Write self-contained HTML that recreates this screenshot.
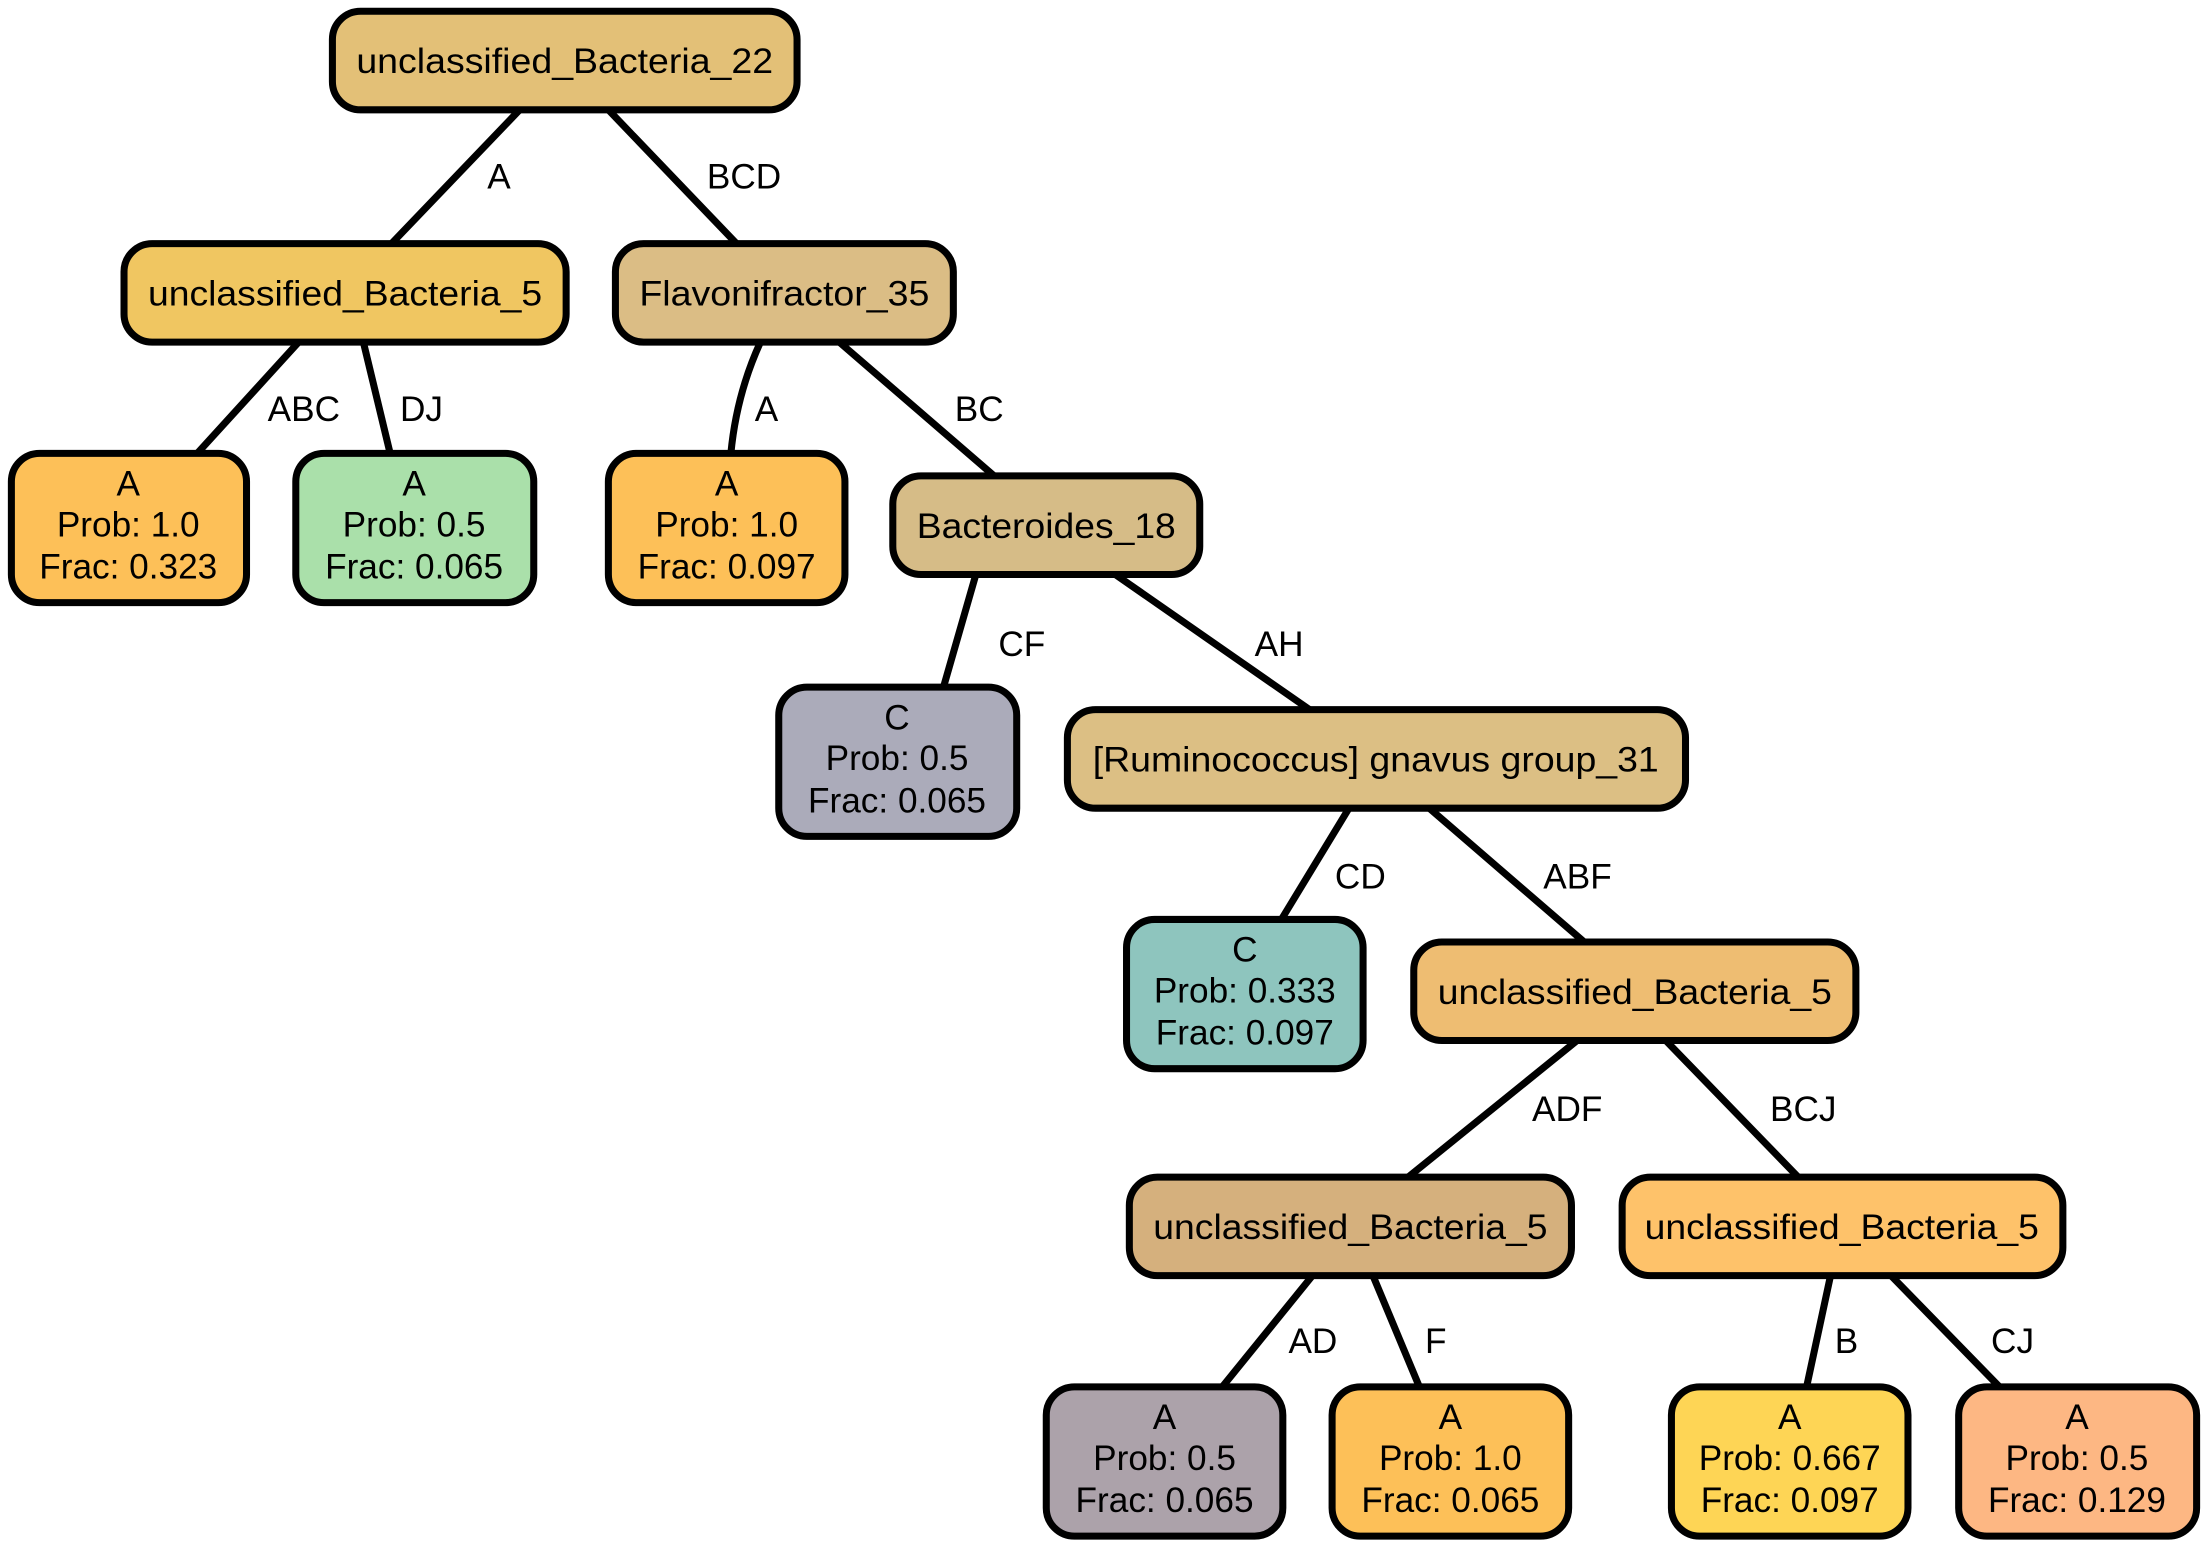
<!DOCTYPE html>
<html><head><meta charset="utf-8"><style>
html,body{margin:0;padding:0;background:#fff;}
svg{display:block;}
text{font-family:"Liberation Sans",Arial,sans-serif;fill:#000;}
.l{font-size:25px;fill:#222;}
.n{font-size:25px;text-anchor:middle;}
.i{font-size:25px;}
</style></head><body>
<svg width="2208" height="1546" viewBox="0 0 1568 1098" xmlns="http://www.w3.org/2000/svg">
<g stroke="#000" stroke-width="5" fill="none">
<line x1="369" y1="78" x2="278" y2="173"/>
<line x1="432" y1="78" x2="523" y2="173"/>
<line x1="212" y1="243" x2="140" y2="322"/>
<line x1="258" y1="243" x2="277" y2="322"/>
<path d="M540 243 Q523 280 519 322"/>
<line x1="596" y1="243" x2="706" y2="338"/>
<line x1="693" y1="408" x2="670" y2="488"/>
<line x1="792" y1="408" x2="930" y2="504"/>
<line x1="958" y1="574" x2="910" y2="653"/>
<line x1="1015" y1="574" x2="1125" y2="669"/>
<line x1="1120" y1="739" x2="1000" y2="836"/>
<line x1="1183" y1="739" x2="1277" y2="836"/>
<line x1="932" y1="906" x2="868" y2="985"/>
<line x1="975" y1="906" x2="1008" y2="985"/>
<line x1="1300" y1="906" x2="1283" y2="985"/>
<line x1="1343" y1="906" x2="1420" y2="985"/>
</g>
<g class="l">
<text x="346" y="134">A</text>
<text x="502" y="134">BCD</text>
<text x="190" y="299">ABC</text>
<text x="284" y="299">DJ</text>
<text x="536" y="299">A</text>
<text x="678" y="299">BC</text>
<text x="709" y="466">CF</text>
<text x="891" y="466">AH</text>
<text x="948" y="631">CD</text>
<text x="1096" y="631">ABF</text>
<text x="1088" y="796">ADF</text>
<text x="1257" y="796">BCJ</text>
<text x="915" y="961">AD</text>
<text x="1012" y="961">F</text>
<text x="1303" y="961">B</text>
<text x="1414" y="961">CJ</text>
</g>
<g stroke="#000" stroke-width="5">
<rect x="236" y="8" width="330" height="70" rx="20" fill="#E3C077"/>
<rect x="88" y="173" width="314" height="70" rx="20" fill="#F0C661"/>
<rect x="437" y="173" width="240" height="70" rx="20" fill="#DBBD85"/>
<rect x="8" y="322" width="167" height="106" rx="20" fill="#FDC058"/>
<rect x="210" y="322" width="169" height="106" rx="20" fill="#AAE0AA"/>
<rect x="432" y="322" width="168" height="106" rx="20" fill="#FDC058"/>
<rect x="634" y="338" width="218" height="70" rx="20" fill="#D6BC87"/>
<rect x="553" y="488" width="169" height="106" rx="20" fill="#ABABBA"/>
<rect x="758" y="504" width="439" height="70" rx="20" fill="#DCBF84"/>
<rect x="800" y="653" width="168" height="106" rx="20" fill="#8EC5BE"/>
<rect x="1004" y="669" width="314" height="70" rx="20" fill="#EEBD72"/>
<rect x="802" y="836" width="314" height="70" rx="20" fill="#D5B07D"/>
<rect x="1152" y="836" width="313" height="70" rx="20" fill="#FEC26A"/>
<rect x="743" y="985" width="168" height="106" rx="20" fill="#ACA2AA"/>
<rect x="946" y="985" width="168" height="106" rx="20" fill="#FDC058"/>
<rect x="1187" y="985" width="168" height="106" rx="20" fill="#FED555"/>
<rect x="1391" y="985" width="169" height="106" rx="20" fill="#FDB783"/>
</g>
<g class="n">
<text x="401" y="52" textLength="296" lengthAdjust="spacingAndGlyphs">unclassified_Bacteria_22</text>
<text x="245" y="217" textLength="280" lengthAdjust="spacingAndGlyphs">unclassified_Bacteria_5</text>
<text x="557" y="217" textLength="206" lengthAdjust="spacingAndGlyphs">Flavonifractor_35</text>
<text x="743" y="382" textLength="184" lengthAdjust="spacingAndGlyphs">Bacteroides_18</text>
<text x="977" y="548" textLength="402" lengthAdjust="spacingAndGlyphs">[Ruminococcus] gnavus group_31</text>
<text x="1161" y="713" textLength="280" lengthAdjust="spacingAndGlyphs">unclassified_Bacteria_5</text>
<text x="959" y="880" textLength="280" lengthAdjust="spacingAndGlyphs">unclassified_Bacteria_5</text>
<text x="1308" y="880" textLength="280" lengthAdjust="spacingAndGlyphs">unclassified_Bacteria_5</text>

<text x="91" y="352">A</text><text x="91" y="381">Prob: 1.0</text><text x="91" y="411">Frac: 0.323</text>
<text x="294" y="352">A</text><text x="294" y="381">Prob: 0.5</text><text x="294" y="411">Frac: 0.065</text>
<text x="516" y="352">A</text><text x="516" y="381">Prob: 1.0</text><text x="516" y="411">Frac: 0.097</text>
<text x="637" y="518">C</text><text x="637" y="547">Prob: 0.5</text><text x="637" y="577">Frac: 0.065</text>
<text x="884" y="683">C</text><text x="884" y="712">Prob: 0.333</text><text x="884" y="742">Frac: 0.097</text>
<text x="827" y="1015">A</text><text x="827" y="1044">Prob: 0.5</text><text x="827" y="1074">Frac: 0.065</text>
<text x="1030" y="1015">A</text><text x="1030" y="1044">Prob: 1.0</text><text x="1030" y="1074">Frac: 0.065</text>
<text x="1271" y="1015">A</text><text x="1271" y="1044">Prob: 0.667</text><text x="1271" y="1074">Frac: 0.097</text>
<text x="1475" y="1015">A</text><text x="1475" y="1044">Prob: 0.5</text><text x="1475" y="1074">Frac: 0.129</text>
</g>
</svg>
</body></html>
